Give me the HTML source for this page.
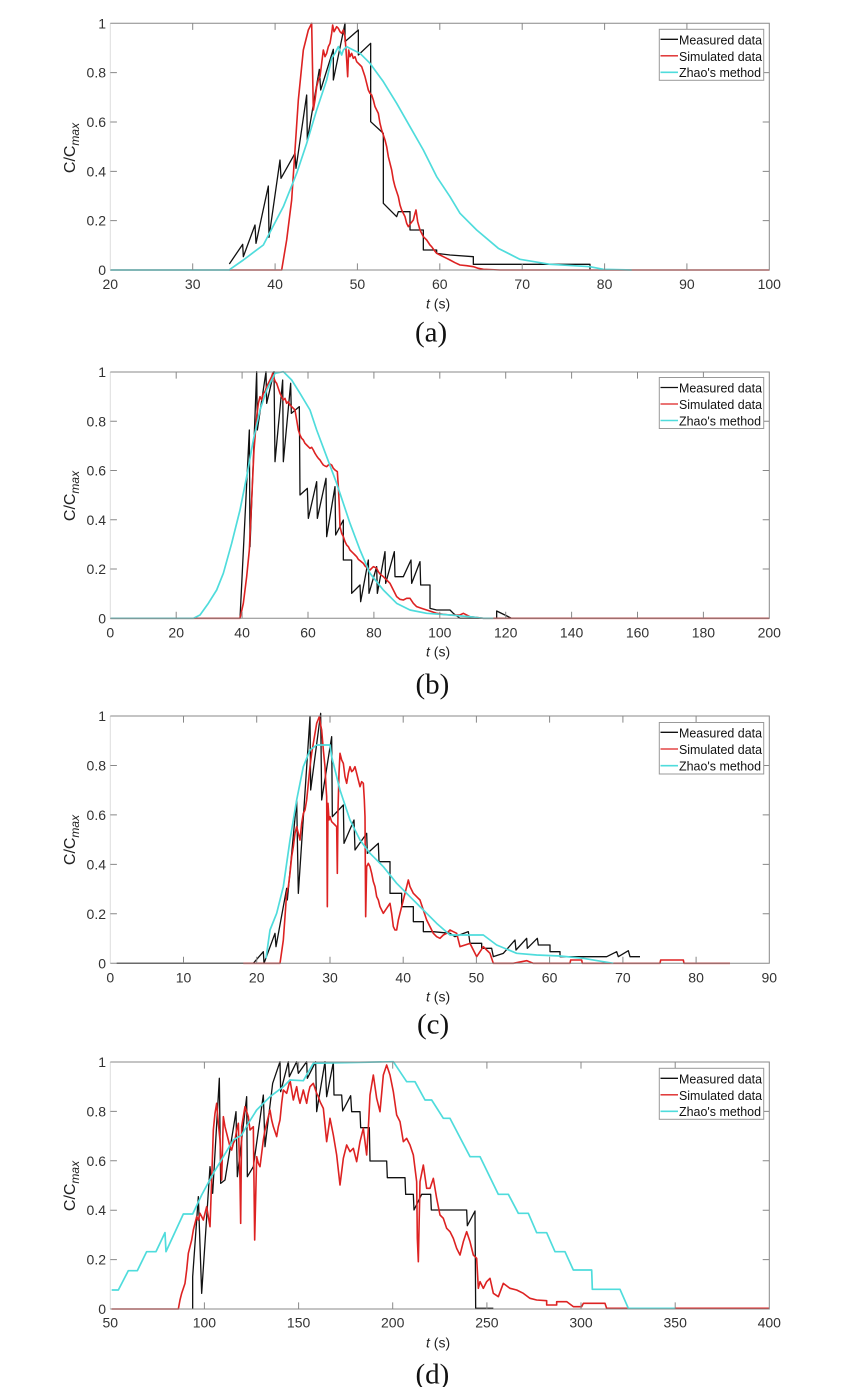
<!DOCTYPE html>
<html><head><meta charset="utf-8">
<style>
html,body{margin:0;padding:0;background:#fff;}
svg{display:block;}
.tk{font-family:"Liberation Sans",Arial,sans-serif;font-size:14px;fill:#333;}
.lg{font-family:"Liberation Sans",Arial,sans-serif;font-size:12.5px;fill:#111;}
.ax{fill:none;stroke:#888;stroke-width:1;}
.axl{fill:none;stroke:#ddd;stroke-width:1;}
.tick{fill:none;stroke:#888;stroke-width:1;}
.bk{fill:none;stroke:#111;stroke-width:1.3;stroke-linejoin:round;vector-effect:non-scaling-stroke;}
.rd{fill:none;stroke:#dd2222;stroke-width:1.6;stroke-linejoin:round;vector-effect:non-scaling-stroke;}
.cy{fill:none;stroke:#4fdcdc;stroke-width:1.7;stroke-linejoin:round;vector-effect:non-scaling-stroke;}
.lab{font-family:"Liberation Serif","Times New Roman",serif;font-size:29px;fill:#111;}
.yl{font-family:"Liberation Sans",Arial,sans-serif;font-size:16px;fill:#222;}
.xl{font-family:"Liberation Sans",Arial,sans-serif;font-size:14px;fill:#222;}
</style></head>
<body>
<svg width="850" height="1387" viewBox="0 0 850 1387" xmlns="http://www.w3.org/2000/svg">
<rect width="850" height="1387" fill="#fff"/>

<!-- ================= (a) ================= -->
<g transform="translate(50,0) scale(0.333333)">
<polyline class="bk" points="538,792 578,733 580,770 615,675 618,730 655,558 657,712 690,480 693,535 735,460 738,505 770,285 772,420 808,208 812,270 850,148 850,240 885,70 885,125 925,90 925,165 962,130 962,365 1000,400 1000,610 1040,650 1045,635 1080,635 1080,690 1120,690 1120,750 1160,750 1160,760 1200,765 1270,770 1270,793 1620,793 1620,808"/>
<polyline class="rd" points="538,810 695,810 710,720 725,600 735,450 745,300 760,150 775,90 785,70 790,330 795,300 800,260 805,240 810,230 815,190 820,150 825,170 830,160 835,140 840,130 845,100 848,75 852,95 855,90 860,80 865,85 870,95 875,100 880,90 885,110 888,150 890,180 893,230 896,150 900,170 905,160 910,175 915,170 920,185 925,190 930,195 935,200 940,215 945,230 950,250 955,270 960,280 965,285 970,300 975,320 980,330 985,340 990,370 995,390 1000,405 1005,420 1010,440 1015,470 1020,490 1025,510 1030,540 1035,560 1040,575 1045,590 1050,615 1055,630 1060,640 1065,650 1070,670 1075,680 1082,670 1090,660 1095,640 1098,630 1103,665 1110,690 1115,700 1120,710 1125,715 1130,720 1140,735 1145,740 1152,750 1160,760 1170,765 1180,770 1190,775 1200,780 1215,788 1230,795 1250,797 1270,800 1285,805 1300,808 1350,810 2158,810"/>
<polyline class="cy" points="181,810 538,810 540,808 580,780 640,735 700,620 740,520 770,430 800,330 830,240 845,175 855,160 865,140 875,165 880,150 890,140 900,145 930,160 960,190 1000,245 1040,310 1080,380 1120,450 1160,530 1200,590 1230,640 1280,690 1345,745 1410,778 1500,793 1620,800 1660,808 1745,810"/>
</g>
<path class="axl" d="M110.3,23.3V270"/>
<path class="ax" d="M110.3,270H769.3V23.3H110.3"/>
<path class="tick" d="M192.7,270v-6.6M275.1,270v-6.6M357.4,270v-6.6M439.8,270v-6.6M522.2,270v-6.6M604.6,270v-6.6M686.9,270v-6.6
M192.7,23.3v6.6M275.1,23.3v6.6M357.4,23.3v6.6M439.8,23.3v6.6M522.2,23.3v6.6M604.6,23.3v6.6M686.9,23.3v6.6
M110.3,220.66h6.6M110.3,171.32h6.6M110.3,121.98h6.6M110.3,72.64h6.6
M769.3,220.66h-6.6M769.3,171.32h-6.6M769.3,121.98h-6.6M769.3,72.64h-6.6"/>
<g class="tk" text-anchor="middle">
<text x="110.3" y="289">20</text><text x="192.7" y="289">30</text><text x="275.1" y="289">40</text><text x="357.4" y="289">50</text><text x="439.8" y="289">60</text><text x="522.2" y="289">70</text><text x="604.6" y="289">80</text><text x="686.9" y="289">90</text><text x="769.3" y="289">100</text>
</g>
<g class="tk" text-anchor="end">
<text x="106" y="275">0</text><text x="106" y="225.7">0.2</text><text x="106" y="176.3">0.4</text><text x="106" y="127">0.6</text><text x="106" y="77.6">0.8</text><text x="106" y="28.3">1</text>
</g>
<text class="yl" transform="translate(75,148) rotate(-90)" text-anchor="middle">C/C<tspan font-size="12" font-style="italic" dy="4">max</tspan></text>
<text class="xl" x="426" y="308.3"><tspan font-style="italic">t</tspan> (s)</text>
<text class="lab" x="415" y="341.7">(a)</text>
<g>
<rect x="659.3" y="29.3" width="104.4" height="51" fill="#fff" stroke="#999" stroke-width="1"/>
<line x1="660.5" y1="39.3" x2="678" y2="39.3" stroke="#111" stroke-width="1.3"/>
<line x1="660.5" y1="55.8" x2="678" y2="55.8" stroke="#dd2222" stroke-width="1.3"/>
<line x1="660.5" y1="72.3" x2="678" y2="72.3" stroke="#4fdcdc" stroke-width="1.6"/>
<text class="lg" x="679" y="44.3" textLength="83" lengthAdjust="spacingAndGlyphs">Measured data</text>
<text class="lg" x="679" y="60.8" textLength="83" lengthAdjust="spacingAndGlyphs">Simulated data</text>
<text class="lg" x="679" y="77.2" textLength="82" lengthAdjust="spacingAndGlyphs">Zhao's method</text>
</g>

<!-- ================= (b) ================= -->
<g transform="translate(50,350) scale(0.333333)">
<polyline class="bk" points="570,805 598,240 600,590 620,65 622,240 648,65 650,160 672,65 675,335 698,90 700,335 722,100 724,190 748,170 750,435 772,415 775,505 800,395 802,505 828,385 830,560 855,410 857,555 880,510 880,630 905,630 905,730 930,705 932,755 955,630 957,730 980,650 982,730 1005,605 1007,700 1033,605 1035,680 1060,680 1083,630 1085,700 1110,635 1112,705 1140,705 1140,775 1160,780 1200,780 1210,790 1230,805 1340,805 1340,783 1385,805"/>
<polyline class="rd" points="181,805 570,805 580,760 590,680 598,600 605,450 612,300 620,200 625,160 630,140 635,150 640,130 645,125 650,110 655,100 660,90 665,80 668,70 672,85 676,95 680,100 685,115 690,130 695,140 700,150 705,145 710,160 715,155 720,165 725,170 730,175 735,180 740,210 745,240 750,255 755,265 760,270 765,280 770,285 775,290 780,295 785,292 790,300 795,310 800,318 805,325 810,330 815,338 820,345 825,348 830,350 835,345 840,342 845,345 850,355 855,360 862,365 865,410 868,470 870,530 875,550 880,560 885,575 890,585 895,590 900,600 905,605 910,610 915,615 920,620 925,628 930,632 935,636 940,640 945,648 950,652 955,658 960,660 965,655 970,650 975,652 980,655 985,665 990,672 995,676 1000,680 1010,690 1020,700 1030,720 1040,740 1050,748 1060,750 1070,745 1080,745 1090,760 1100,770 1115,775 1130,780 1145,785 1160,790 1180,793 1200,795 1230,795 1240,790 1260,800 1300,805 2158,805"/>
<polyline class="cy" points="181,805 430,805 450,795 475,760 500,720 520,670 545,580 570,480 590,380 610,270 630,180 650,120 675,70 700,65 725,90 750,130 780,180 800,240 830,320 860,400 880,460 900,520 930,600 960,670 1000,720 1040,760 1080,780 1130,790 1200,795 1260,800 1300,805 1330,805"/>
</g>
<path class="axl" d="M110.3,372V618.3"/>
<path class="ax" d="M110.3,618.3H769.3V372H110.3"/>
<path class="tick" d="M176.2,618.3v-6.6M242.1,618.3v-6.6M308,618.3v-6.6M373.9,618.3v-6.6M439.8,618.3v-6.6M505.7,618.3v-6.6M571.6,618.3v-6.6M637.5,618.3v-6.6M703.4,618.3v-6.6
M176.2,372v6.6M242.1,372v6.6M308,372v6.6M373.9,372v6.6M439.8,372v6.6M505.7,372v6.6M571.6,372v6.6M637.5,372v6.6M703.4,372v6.6
M110.3,569h6.6M110.3,519.8h6.6M110.3,470.5h6.6M110.3,421.3h6.6
M769.3,569h-6.6M769.3,519.8h-6.6M769.3,470.5h-6.6M769.3,421.3h-6.6"/>
<g class="tk" text-anchor="middle">
<text x="110.3" y="637.3">0</text><text x="176.2" y="637.3">20</text><text x="242.1" y="637.3">40</text><text x="308" y="637.3">60</text><text x="373.9" y="637.3">80</text><text x="439.8" y="637.3">100</text><text x="505.7" y="637.3">120</text><text x="571.6" y="637.3">140</text><text x="637.5" y="637.3">160</text><text x="703.4" y="637.3">180</text><text x="769.3" y="637.3">200</text>
</g>
<g class="tk" text-anchor="end">
<text x="106" y="623.3">0</text><text x="106" y="574">0.2</text><text x="106" y="524.8">0.4</text><text x="106" y="475.5">0.6</text><text x="106" y="426.3">0.8</text><text x="106" y="377">1</text>
</g>
<text class="yl" transform="translate(75,496) rotate(-90)" text-anchor="middle">C/C<tspan font-size="12" font-style="italic" dy="4">max</tspan></text>
<text class="xl" x="426" y="656.7"><tspan font-style="italic">t</tspan> (s)</text>
<text class="lab" x="415.5" y="693.4">(b)</text>
<g>
<rect x="659.3" y="377.5" width="104.4" height="51" fill="#fff" stroke="#999" stroke-width="1"/>
<line x1="660.5" y1="387.5" x2="678" y2="387.5" stroke="#111" stroke-width="1.3"/>
<line x1="660.5" y1="404" x2="678" y2="404" stroke="#dd2222" stroke-width="1.3"/>
<line x1="660.5" y1="420.5" x2="678" y2="420.5" stroke="#4fdcdc" stroke-width="1.6"/>
<text class="lg" x="679" y="392.5" textLength="83" lengthAdjust="spacingAndGlyphs">Measured data</text>
<text class="lg" x="679" y="409" textLength="83" lengthAdjust="spacingAndGlyphs">Simulated data</text>
<text class="lg" x="679" y="425.4" textLength="82" lengthAdjust="spacingAndGlyphs">Zhao's method</text>
</g>

<!-- ================= (c) ================= -->
<g transform="translate(50,700) scale(0.333333)">
<polyline class="bk" points="200,790 610,790 640,755 642,790 675,700 678,740 710,565 712,600 740,300 745,580 780,50 782,270 812,40 815,300 845,110 847,350 880,315 882,430 912,360 915,450 950,400 952,460 985,430 987,485 1020,485 1020,580 1055,580 1055,620 1090,620 1090,665 1120,665 1120,695 1150,695 1200,700 1215,710 1255,695 1260,730 1295,730 1295,745 1325,745 1330,770 1360,760 1395,720 1398,750 1430,715 1432,745 1462,715 1465,735 1500,735 1500,755 1530,755 1530,770 1670,770 1700,755 1705,770 1735,752 1740,770 1770,770"/>
<polyline class="rd" points="580,790 690,790 700,720 705,650 710,580 715,560 720,520 725,470 730,440 735,400 740,380 745,400 750,420 755,370 760,340 765,330 770,300 775,250 780,200 785,160 790,130 795,100 800,70 804,60 808,50 812,75 815,90 820,150 825,200 828,260 830,290 832,620 834,310 837,360 840,350 845,365 850,370 855,375 860,380 862,520 864,330 867,220 870,160 875,180 880,190 885,230 890,250 895,220 900,200 905,215 910,210 915,200 920,220 925,240 930,260 935,245 940,250 943,300 945,350 947,650 950,500 955,490 960,500 965,520 970,545 975,560 980,590 985,600 990,620 995,630 1000,640 1010,625 1020,610 1025,640 1030,680 1035,690 1040,690 1045,660 1050,640 1055,620 1060,600 1065,580 1070,560 1075,540 1080,560 1085,570 1090,580 1100,590 1110,600 1120,630 1130,660 1140,680 1150,700 1160,710 1170,715 1180,705 1190,700 1200,690 1210,695 1220,700 1230,740 1245,735 1260,730 1270,750 1280,770 1290,755 1300,740 1310,750 1320,760 1325,775 1330,790 1390,790 1430,782 1450,790 1560,790 1562,780 1595,780 1597,790 1830,790 1832,780 1900,780 1902,790 2040,790"/>
<polyline class="cy" points="648,775 660,690 680,640 700,560 720,420 740,300 760,200 780,150 800,135 840,135 845,170 870,270 900,360 930,420 960,460 1000,500 1040,550 1080,590 1120,630 1160,670 1200,705 1260,705 1300,705 1340,735 1400,760 1460,765 1530,768 1600,775 1660,785 1690,790"/>
</g>
<path class="axl" d="M110.3,716V963.3"/>
<path class="ax" d="M110.3,963.3H769.3V716H110.3"/>
<path class="tick" d="M183.5,963.3v-6.6M256.7,963.3v-6.6M330,963.3v-6.6M403.2,963.3v-6.6M476.4,963.3v-6.6M549.6,963.3v-6.6M622.9,963.3v-6.6M696.1,963.3v-6.6
M183.5,716v6.6M256.7,716v6.6M330,716v6.6M403.2,716v6.6M476.4,716v6.6M549.6,716v6.6M622.9,716v6.6M696.1,716v6.6
M110.3,913.8h6.6M110.3,864.4h6.6M110.3,814.9h6.6M110.3,765.5h6.6
M769.3,913.8h-6.6M769.3,864.4h-6.6M769.3,814.9h-6.6M769.3,765.5h-6.6"/>
<g class="tk" text-anchor="middle">
<text x="110.3" y="982.5">0</text><text x="183.5" y="982.5">10</text><text x="256.7" y="982.5">20</text><text x="330" y="982.5">30</text><text x="403.2" y="982.5">40</text><text x="476.4" y="982.5">50</text><text x="549.6" y="982.5">60</text><text x="622.9" y="982.5">70</text><text x="696.1" y="982.5">80</text><text x="769.3" y="982.5">90</text>
</g>
<g class="tk" text-anchor="end">
<text x="106" y="968.3">0</text><text x="106" y="918.8">0.2</text><text x="106" y="869.4">0.4</text><text x="106" y="819.9">0.6</text><text x="106" y="770.5">0.8</text><text x="106" y="721">1</text>
</g>
<text class="yl" transform="translate(75,840) rotate(-90)" text-anchor="middle">C/C<tspan font-size="12" font-style="italic" dy="4">max</tspan></text>
<text class="xl" x="426" y="1001.7"><tspan font-style="italic">t</tspan> (s)</text>
<text class="lab" x="417" y="1033.4">(c)</text>
<g>
<rect x="659.3" y="722.5" width="104.4" height="51.5" fill="#fff" stroke="#999" stroke-width="1"/>
<line x1="660.5" y1="732.3" x2="678" y2="732.3" stroke="#111" stroke-width="1.3"/>
<line x1="660.5" y1="749" x2="678" y2="749" stroke="#dd2222" stroke-width="1.3"/>
<line x1="660.5" y1="765.7" x2="678" y2="765.7" stroke="#4fdcdc" stroke-width="1.6"/>
<text class="lg" x="679" y="737.3" textLength="83" lengthAdjust="spacingAndGlyphs">Measured data</text>
<text class="lg" x="679" y="754" textLength="83" lengthAdjust="spacingAndGlyphs">Simulated data</text>
<text class="lg" x="679" y="770.6" textLength="82" lengthAdjust="spacingAndGlyphs">Zhao's method</text>
</g>

<!-- ================= (d) ================= -->
<g transform="translate(50,1040) scale(0.333333)">
<polyline class="bk" points="428,808 428,710 445,470 455,760 480,380 488,460 508,115 512,430 525,420 558,215 562,410 590,170 592,410 610,380 640,165 645,320 668,130 690,65 692,155 715,65 718,110 740,65 745,100 770,65 772,115 797,65 800,215 825,65 830,170 850,67 852,165 875,165 878,213 902,167 905,215 930,215 932,263 958,263 960,363 1010,363 1012,413 1065,413 1067,463 1090,463 1092,510 1115,463 1142,463 1144,510 1250,510 1252,557 1275,513 1277,805 1330,805"/>
<polyline class="rd" points="185,807 385,807 390,780 395,760 400,745 405,730 410,690 415,640 420,620 425,600 430,570 435,550 440,530 445,540 450,520 455,530 460,540 465,520 470,500 475,530 480,560 485,420 490,270 495,220 500,190 505,250 510,300 515,420 520,230 525,260 530,280 535,300 540,320 545,330 550,310 555,300 560,270 565,250 570,420 572,550 575,260 580,230 585,200 590,215 595,230 600,270 605,265 610,260 614,600 620,350 625,370 630,380 635,340 640,300 645,270 650,250 655,230 660,210 665,240 670,260 675,275 680,290 685,260 690,240 695,190 700,150 705,155 710,160 715,140 720,120 725,150 730,180 735,160 740,140 745,170 750,190 755,170 760,150 765,170 770,190 775,160 780,140 785,135 790,130 795,145 800,160 805,170 810,185 820,205 830,305 840,235 850,285 860,345 870,435 880,355 890,315 900,335 910,325 920,365 930,305 940,265 950,345 955,265 960,165 970,105 980,175 990,215 1000,105 1010,75 1020,105 1030,155 1040,225 1050,245 1060,305 1070,295 1080,315 1090,345 1100,425 1102,595 1105,665 1110,425 1120,375 1130,445 1140,445 1150,415 1160,475 1170,525 1180,535 1190,565 1200,575 1210,595 1220,625 1230,645 1240,605 1250,575 1260,605 1270,645 1280,655 1285,745 1290,725 1300,745 1310,725 1320,715 1330,760 1345,770 1360,730 1380,745 1400,750 1420,760 1440,775 1460,780 1490,782 1490,795 1520,795 1520,785 1550,785 1570,800 1595,800 1600,790 1665,790 1670,805 2158,805"/>
<polyline class="cy" points="185,750 205,750 235,692 262,692 290,635 318,635 345,578 348,635 400,522 428,522 455,465 490,400 520,350 550,300 575,285 595,250 620,210 660,170 700,140 720,120 760,122 790,70 1030,65 1070,125 1095,125 1125,180 1145,180 1180,235 1200,235 1260,350 1290,350 1345,463 1375,463 1405,520 1435,520 1460,578 1490,578 1515,635 1545,635 1570,690 1625,690 1627,748 1710,748 1735,805 1875,805"/>
</g>
<path class="axl" d="M110.3,1062V1309"/>
<path class="ax" d="M110.3,1309H769.3V1062H110.3"/>
<path class="tick" d="M204.4,1309v-6.6M298.6,1309v-6.6M392.7,1309v-6.6M486.9,1309v-6.6M581,1309v-6.6M675.2,1309v-6.6
M204.4,1062v6.6M298.6,1062v6.6M392.7,1062v6.6M486.9,1062v6.6M581,1062v6.6M675.2,1062v6.6
M110.3,1259.6h6.6M110.3,1210.2h6.6M110.3,1160.8h6.6M110.3,1111.4h6.6
M769.3,1259.6h-6.6M769.3,1210.2h-6.6M769.3,1160.8h-6.6M769.3,1111.4h-6.6"/>
<g class="tk" text-anchor="middle">
<text x="110.3" y="1327.5">50</text><text x="204.4" y="1327.5">100</text><text x="298.6" y="1327.5">150</text><text x="392.7" y="1327.5">200</text><text x="486.9" y="1327.5">250</text><text x="581" y="1327.5">300</text><text x="675.2" y="1327.5">350</text><text x="769.3" y="1327.5">400</text>
</g>
<g class="tk" text-anchor="end">
<text x="106" y="1314">0</text><text x="106" y="1264.6">0.2</text><text x="106" y="1215.2">0.4</text><text x="106" y="1165.8">0.6</text><text x="106" y="1116.4">0.8</text><text x="106" y="1067">1</text>
</g>
<text class="yl" transform="translate(75,1186) rotate(-90)" text-anchor="middle">C/C<tspan font-size="12" font-style="italic" dy="4">max</tspan></text>
<text class="xl" x="426" y="1347.3"><tspan font-style="italic">t</tspan> (s)</text>
<text class="lab" x="415.5" y="1383.4">(d)</text>
<g>
<rect x="659.3" y="1068.3" width="104.4" height="51" fill="#fff" stroke="#999" stroke-width="1"/>
<line x1="660.5" y1="1078.3" x2="678" y2="1078.3" stroke="#111" stroke-width="1.3"/>
<line x1="660.5" y1="1094.8" x2="678" y2="1094.8" stroke="#dd2222" stroke-width="1.3"/>
<line x1="660.5" y1="1111.3" x2="678" y2="1111.3" stroke="#4fdcdc" stroke-width="1.6"/>
<text class="lg" x="679" y="1083.3" textLength="83" lengthAdjust="spacingAndGlyphs">Measured data</text>
<text class="lg" x="679" y="1099.8" textLength="83" lengthAdjust="spacingAndGlyphs">Simulated data</text>
<text class="lg" x="679" y="1116.2" textLength="82" lengthAdjust="spacingAndGlyphs">Zhao's method</text>
</g>
</svg>
</body></html>
